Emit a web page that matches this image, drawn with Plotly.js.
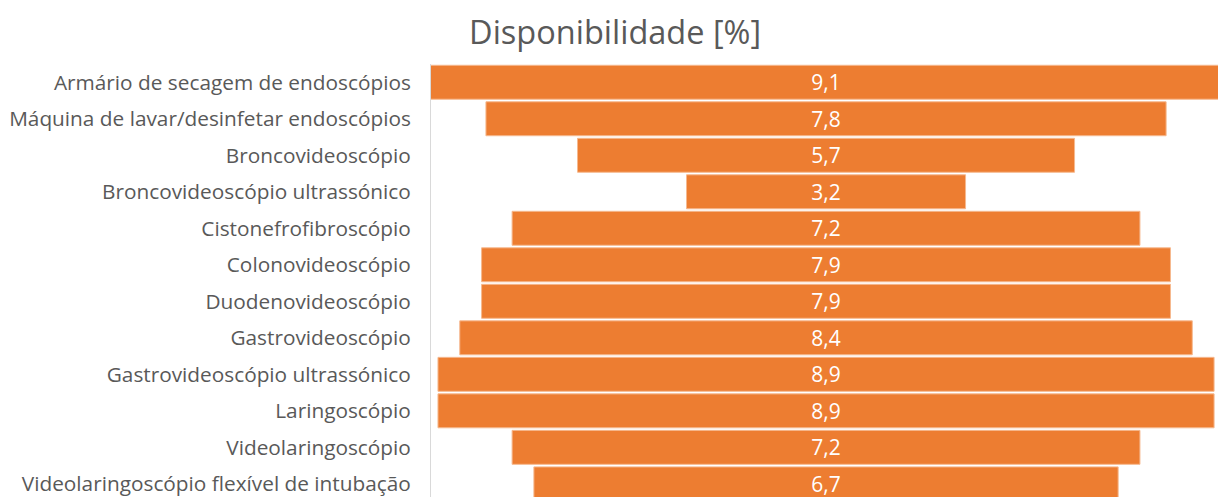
<!DOCTYPE html>
<html>
<head>
<meta charset="utf-8">
<script src="https://cdn.plot.ly/plotly-3.0.1.min.js"></script>
<style>html,body{margin:0;padding:0;background:#fff;}#chart{width:1218px;height:497px;}</style>
</head>
<body>
<div id="chart"></div>
<script>
const categories = [
  "Armário de secagem de endoscópios",
  "Máquina de lavar/desinfetar endoscópios",
  "Broncovideoscópio",
  "Broncovideoscópio ultrassónico",
  "Cistonefrofibroscópio",
  "Colonovideoscópio",
  "Duodenovideoscópio",
  "Gastrovideoscópio",
  "Gastrovideoscópio ultrassónico",
  "Laringoscópio",
  "Videolaringoscópio",
  "Videolaringoscópio flexível de intubação"
];
const disponibilidade = [9.1, 7.8, 5.7, 3.2, 7.2, 7.9, 7.9, 8.4, 8.9, 8.9, 7.2, 6.7];
const chartTitle = "Disponibilidade [%]";

const trace = {
  type: "funnel",
  y: categories,
  x: disponibilidade,
  orientation: "h",
  marker: {color: "#ED7D31", line: {color: "#F6B98F", width: 1}},
  connector: {visible: false},
  textposition: "inside",
  insidetextanchor: "middle",
  texttemplate: "%{x:.1f}",
  textfont: {color: "#FFFFFF", size: 21, family: "Open Sans, sans-serif"},
  constraintext: "none",
  hoverinfo: "skip"
};

const layout = {
  width: 1218,
  height: 497,
  margin: {l: 431, r: 0, t: 64, b: 0, pad: 0},
  paper_bgcolor: "#FFFFFF",
  plot_bgcolor: "#FFFFFF",
  separators: ",.",
  showlegend: false,
  funnelgap: 0.07,
  title: {
    text: chartTitle,
    font: {family: "Open Sans, sans-serif", size: 32.5, color: "#595959"},
    x: 0.505, xref: "container", xanchor: "center",
    y: 0.935, yref: "container", yanchor: "middle"
  },
  xaxis: {
    range: [-4.53, 4.495],
    showgrid: false, zeroline: false, showticklabels: false, showline: false, ticks: ""
  },
  yaxis: {
    type: "category",
    range: [11.36, -0.5],
    showgrid: false, zeroline: false,
    showline: true, linecolor: "#D9D9D9", linewidth: 1,
    ticks: "", ticklabelstandoff: 15,
    tickfont: {family: "Open Sans, sans-serif", size: 20.8, color: "#595959"}
  }
};

Plotly.newPlot("chart", [trace], layout, {staticPlot: true, displayModeBar: false});
</script>
</body>
</html>
